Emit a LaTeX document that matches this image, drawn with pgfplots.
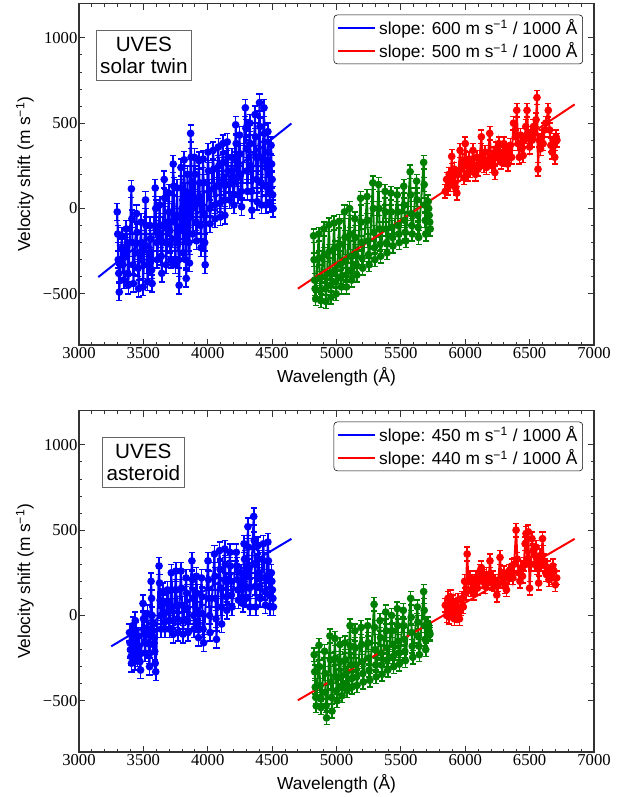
\documentclass[border=0pt]{standalone}
\usepackage{pgfplots}
\pgfplotsset{compat=1.18}
\usepackage{fontspec}
\setmainfont{Liberation Sans}
\newfontfamily\seriffont{Liberation Serif}
\definecolor{cblue}{RGB}{0,0,255}
\definecolor{cgreen}{RGB}{0,128,0}
\definecolor{cred}{RGB}{255,0,0}
\pgfplotsset{
  panel/.style={
    scale only axis, width=386.25pt, height=256pt,
    xmin=3000, xmax=7000, ymin=-800, ymax=1200,
    xtick={3000,3500,4000,4500,5000,5500,6000,6500,7000},
    xticklabels={3000,3500,4000,4500,5000,5500,6000,6500,7000},
    ytick={-500,0,500,1000}, yticklabels={−500,0,500,1000},
    minor x tick num=4, minor y tick num=4,
    tick align=inside,
    major tick length=4.5pt, minor tick length=2.2pt,
    axis line style={black!80, line width=0.8pt},
    every tick/.style={black!80, line width=0.6pt},
    tick label style={font=\seriffont\fontsize{12.5}{14}\selectfont},
    yticklabel style={inner xsep=1pt},
    xticklabel style={inner ysep=1.5pt},
    label style={font=\fontsize{13}{15}\selectfont},
    xlabel={Wavelength (Å)},
    ylabel={Velocity shift (m s\textsuperscript{−1})},
    xlabel style={at={(axis description cs:0.5,-0.111)}, anchor=base},
    ylabel style={at={(axis description cs:-0.095,0.5)}, anchor=base},
    legend style={at={(0.9786,0.9677)}, anchor=north east, draw=black,
      rounded corners=2.5pt, fill=white, font=\fontsize{13}{15}\selectfont,
      inner xsep=2pt, inner ysep=1pt, row sep=1pt, cells={anchor=west}},
    legend image code/.code={\draw[#1, line width=1.5pt] (0cm,0cm) -- (1.0cm,0cm);},
  },
  data/.style={color=#1, mark=*, mark size=2.1pt, line width=1.5pt, forget plot},
  eb/.style={error bars/.cd, y dir=both, y fixed=#1,
    error bar style={line width=1.2pt},
    error mark options={rotate=90, mark size=2.3pt, line width=1.1pt}},
}
\begin{document}
\begin{tikzpicture}
\path[use as bounding box] (0,0) rectangle (466.5pt,597.75pt);
% ---------------- top panel ----------------
\begin{axis}[panel, at={(59.25pt,339pt)}, anchor=south west]
\addplot[data=cblue, eb=50]
coordinates {
(3297,-20)(3301,-150)(3305,-300)(3309,-380)(3313,-490)
(3332,-160)(3336,-230)(3340,-330)(3344,-290)(3348,-420)
(3367,-120)(3371,-250)(3375,-200)(3379,-380)(3383,-450)
(3407,115)(3411,-60)(3415,-200)(3419,-330)(3423,-440)
(3447,-30)(3451,-140)(3455,-260)(3459,-350)(3463,-470)
(3482,-80)(3486,-200)(3490,-300)(3494,-250)(3498,-460)
(3517,50)(3521,-100)(3525,-220)(3529,-330)(3533,-430)
(3552,-100)(3556,-180)(3560,-300)(3564,-360)(3568,-440)
(3592,120)(3596,0)(3600,-120)(3604,-200)(3608,-300)
(3627,20)(3631,-100)(3635,-180)(3639,-280)(3643,-380)
(3662,170)(3666,60)(3670,-80)(3674,-200)(3678,-330)
(3697,90)(3701,-20)(3705,-130)(3709,-210)(3713,-300)
(3732,260)(3736,130)(3740,-40)(3744,-180)(3748,-330)
(3762,120)(3766,-50)(3770,-200)(3774,-300)(3778,-450)
(3792,240)(3796,120)(3800,0)(3804,-130)(3808,-260)
(3817,285)(3821,100)(3825,-100)(3829,-300)(3833,-410)
(3842,200)(3846,60)(3850,-60)(3854,-200)(3858,-320)
(3867,440)(3871,300)(3875,150)(3879,0)(3883,-150)
(3897,300)(3901,200)(3905,60)(3909,-80)(3913,-190)
(3932,280)(3936,150)(3940,30)(3944,-100)(3948,-230)
(3964,290)(3968,150)(3972,-30)(3976,-200)(3980,-330)
(4002,330)(4006,220)(4010,100)(4014,0)(4018,-90)
(4042,340)(4046,230)(4050,120)(4054,20)(4058,-60)
(4082,360)(4086,250)(4090,130)(4094,30)(4098,-50)
(4117,380)(4121,270)(4125,150)(4129,50)(4133,-40)
(4152,390)(4156,300)(4160,220)(4164,140)(4168,50)
(4187,300)(4191,220)(4195,150)(4199,80)(4203,20)
(4217,490)(4221,380)(4225,280)(4229,180)(4233,80)
(4247,430)(4251,320)(4255,200)(4259,100)(4263,10)
(4292,590)(4296,470)(4300,350)(4304,220)(4308,100)
(4327,500)(4331,380)(4335,250)(4339,100)(4343,-10)
(4367,550)(4371,420)(4375,300)(4379,170)(4383,40)
(4402,620)(4406,480)(4410,300)(4414,150)(4418,20)
(4437,590)(4441,440)(4445,280)(4449,130)(4453,20)
(4467,450)(4471,330)(4475,200)(4479,100)(4483,30)
(4492,370)(4496,260)(4500,170)(4504,80)(4508,0)
};
\addplot[data=cgreen, eb=40]
coordinates {
(4822,-160)(4826,-300)(4830,-420)(4834,-470)(4838,-530)
(4862,-150)(4866,-290)(4870,-410)(4874,-480)(4878,-540)
(4902,-120)(4906,-270)(4910,-400)(4914,-470)(4918,-545)
(4942,-95)(4946,-250)(4950,-380)(4954,-450)(4958,-520)
(4982,-85)(4986,-230)(4990,-360)(4994,-430)(4998,-500)
(5022,-75)(5026,-210)(5030,-330)(5034,-400)(5038,-460)
(5062,-20)(5066,-170)(5070,-310)(5074,-390)(5078,-460)
(5102,0)(5106,-150)(5110,-280)(5114,-360)(5118,-420)
(5142,-60)(5146,-170)(5150,-270)(5154,-330)(5158,-390)
(5187,60)(5191,-80)(5195,-200)(5199,-290)(5203,-350)
(5237,70)(5241,-70)(5245,-190)(5249,-270)(5253,-330)
(5282,150)(5286,0)(5290,-140)(5294,-230)(5298,-300)
(5327,140)(5331,0)(5335,-120)(5339,-210)(5343,-280)
(5377,100)(5381,-20)(5385,-120)(5389,-200)(5393,-260)
(5422,90)(5426,-20)(5430,-110)(5434,-170)(5438,-220)
(5472,80)(5476,-20)(5480,-100)(5484,-150)(5488,-200)
(5522,130)(5526,20)(5530,-70)(5534,-140)(5538,-190)
(5572,215)(5576,80)(5580,-30)(5584,-100)(5588,-150)
(5622,160)(5626,50)(5630,-40)(5634,-110)(5638,-170)
(5677,270)(5681,140)(5685,20)(5689,-70)(5693,-150)
(5712,40)(5716,0)(5720,-40)(5724,-80)(5728,-120)
};
\addplot[data=cred, eb=40]
coordinates {
(5845,100)(5855,170)(5865,120)(5875,200)(5885,140)(5895,305)(5905,180)(5915,230)
(5925,120)(5935,90)(5945,200)(5960,340)(5970,230)(5980,280)(5990,180)(6000,380)
(6010,250)(6020,200)(6030,290)(6040,220)(6050,260)(6060,340)(6070,240)(6080,200)
(6090,300)(6100,230)(6110,270)(6125,420)(6135,300)(6145,250)(6155,330)(6165,240)
(6175,280)(6190,440)(6200,300)(6210,250)(6220,320)(6230,210)(6240,350)(6250,300)
(6260,380)(6270,320)(6280,270)(6290,330)(6300,380)(6310,290)(6320,340)(6330,260)
(6340,320)(6350,370)(6360,300)(6375,500)(6390,420)(6400,575)(6410,380)(6420,300)
(6430,430)(6440,350)(6450,310)(6460,400)(6470,480)(6480,575)(6490,420)(6500,360)
(6510,440)(6520,400)(6530,480)(6540,440)(6550,520)(6557,650)(6565,230)(6575,400)
(6585,350)(6595,420)(6605,380)(6615,460)(6625,500)(6645,575)(6655,460)(6665,370)
(6675,330)(6685,400)(6695,300)(6705,420)(6712,400)
};
\addplot[cblue, line width=1.5pt] coordinates {(3150,-402) (4650,498)};
\addlegendentry{slope: 600 m s\textsuperscript{−1} / 1000 Å}
\addplot[cred, line width=1.5pt] coordinates {(4700,-470) (6850,610)};
\addlegendentry{slope: 500 m s\textsuperscript{−1} / 1000 Å}
\node[draw=black!60, fill=white, align=center, font=\fontsize{15.5}{16.5}\selectfont,
  inner xsep=3pt, inner ysep=5pt] at (rel axis cs:0.126,0.849) {UVES\\solar twin};
\end{axis}
% ---------------- bottom panel ----------------
\begin{axis}[panel, at={(59.25pt,33.75pt)}, anchor=south west]
\addplot[data=cblue, eb=50]
coordinates {
(3392,-100)(3396,-160)(3400,-200)(3404,-240)(3408,-280)
(3417,-60)(3421,-130)(3425,-170)(3429,-220)(3433,-270)
(3437,-30)(3441,-90)(3445,-150)(3449,-200)(3453,-250)
(3462,-120)(3466,-180)(3470,-230)(3474,-270)(3478,-320)
(3497,70)(3501,-20)(3505,-90)(3509,-160)(3513,-220)
(3532,10)(3536,-80)(3540,-160)(3544,-230)(3548,-300)
(3560,200)(3564,100)(3568,0)(3572,-90)(3576,-170)
(3580,-50)(3584,-130)(3588,-210)(3592,-280)(3596,-330)
(3622,290)(3626,190)(3630,90)(3634,0)(3638,-80)
(3652,140)(3656,70)(3660,10)(3664,-40)(3668,-80)
(3687,150)(3691,80)(3695,20)(3699,-30)(3703,-80)
(3717,250)(3721,150)(3725,50)(3729,-30)(3733,-110)
(3752,260)(3756,150)(3760,60)(3764,-20)(3768,-100)
(3792,260)(3796,160)(3800,60)(3804,-30)(3808,-110)
(3832,220)(3836,130)(3840,40)(3844,-30)(3848,-100)
(3877,320)(3881,210)(3885,100)(3889,0)(3893,-80)
(3912,230)(3916,130)(3920,30)(3924,-50)(3928,-130)
(3952,220)(3956,110)(3960,10)(3964,-80)(3968,-160)
(4002,320)(4006,210)(4010,100)(4014,0)(4018,-100)
(4052,360)(4056,230)(4060,100)(4064,-20)(4068,-140)
(4092,380)(4096,270)(4100,160)(4104,50)(4108,-50)
(4132,390)(4136,300)(4140,200)(4144,110)(4148,30)
(4172,370)(4176,290)(4180,200)(4184,120)(4188,50)
(4222,370)(4226,290)(4230,210)(4234,150)(4238,90)
(4257,250)(4261,200)(4265,150)(4269,110)(4273,70)
(4282,420)(4286,330)(4290,250)(4294,170)(4298,100)
(4312,520)(4316,400)(4320,280)(4324,160)(4328,50)
(4357,580)(4361,440)(4365,300)(4369,170)(4373,50)
(4392,410)(4396,330)(4400,250)(4404,170)(4408,100)
(4432,420)(4436,320)(4440,220)(4444,140)(4448,60)
(4467,430)(4471,320)(4475,210)(4479,120)(4483,50)
(4494,250)(4498,200)(4502,150)(4506,100)(4510,50)
};
\addplot[data=cgreen, eb=40]
coordinates {
(4827,-230)(4831,-330)(4835,-420)(4839,-480)(4843,-530)
(4864,-175)(4868,-300)(4872,-410)(4876,-480)(4880,-540)
(4907,-210)(4911,-340)(4915,-450)(4919,-530)(4923,-600)
(4949,-120)(4953,-260)(4957,-390)(4961,-480)(4965,-560)
(4988,-135)(4992,-250)(4996,-360)(5000,-440)(5004,-500)
(5027,-170)(5031,-270)(5035,-360)(5039,-420)(5043,-470)
(5066,-160)(5070,-260)(5074,-340)(5078,-400)(5082,-440)
(5105,-60)(5109,-180)(5113,-290)(5117,-370)(5121,-420)
(5143,-90)(5147,-190)(5151,-290)(5155,-360)(5159,-410)
(5192,-70)(5196,-170)(5200,-270)(5204,-340)(5208,-390)
(5242,-60)(5246,-160)(5250,-250)(5254,-320)(5258,-380)
(5292,65)(5296,-70)(5300,-200)(5304,-290)(5308,-360)
(5338,-30)(5342,-130)(5346,-220)(5350,-290)(5354,-345)
(5382,20)(5386,-90)(5390,-190)(5394,-260)(5398,-320)
(5428,0)(5432,-90)(5436,-170)(5440,-240)(5444,-300)
(5472,40)(5476,-60)(5480,-150)(5484,-220)(5488,-285)
(5519,30)(5523,-60)(5527,-140)(5531,-210)(5535,-265)
(5576,100)(5580,-10)(5584,-100)(5588,-180)(5592,-245)
(5628,50)(5632,-40)(5636,-120)(5640,-180)(5644,-230)
(5677,140)(5681,30)(5685,-60)(5689,-140)(5693,-200)
(5710,-50)(5714,-70)(5718,-90)(5722,-100)(5726,-110)
};
\addplot[data=cred, eb=40]
coordinates {
(5845,60)(5855,0)(5865,100)(5875,-10)(5885,110)(5895,20)(5905,80)(5915,-20)
(5925,60)(5935,0)(5945,90)(5955,-20)(5965,40)(5975,100)(5985,50)(5995,200)
(6005,130)(6015,360)(6025,200)(6035,220)(6045,150)(6055,200)(6065,130)(6075,180)
(6085,220)(6095,160)(6105,200)(6115,260)(6125,280)(6135,200)(6145,230)(6155,170)
(6165,240)(6180,200)(6192,320)(6205,190)(6215,220)(6225,180)(6235,200)(6245,120)
(6255,180)(6270,340)(6280,230)(6290,200)(6300,250)(6310,170)(6320,150)(6330,220)
(6340,260)(6350,240)(6360,290)(6370,220)(6380,300)(6395,500)(6405,330)(6415,250)
(6425,200)(6435,280)(6445,230)(6455,300)(6465,420)(6472,480)(6480,330)(6490,490)
(6500,160)(6510,300)(6518,450)(6528,380)(6540,300)(6550,400)(6560,280)(6570,190)
(6580,350)(6590,300)(6600,450)(6610,320)(6620,290)(6630,240)(6640,280)(6650,210)
(6660,250)(6670,220)(6680,290)(6690,260)(6700,180)(6710,220)
};
\addplot[cblue, line width=1.5pt] coordinates {(3250,-181) (4650,449)};
\addlegendentry{slope: 450 m s\textsuperscript{−1} / 1000 Å}
\addplot[cred, line width=1.5pt] coordinates {(4700,-497) (6850,449)};
\addlegendentry{slope: 440 m s\textsuperscript{−1} / 1000 Å}
\node[draw=black!60, fill=white, align=center, font=\fontsize{15.5}{16.5}\selectfont,
  inner xsep=3pt, inner ysep=5pt] at (rel axis cs:0.125,0.848) {UVES\\asteroid};
\end{axis}
\end{tikzpicture}
\end{document}
